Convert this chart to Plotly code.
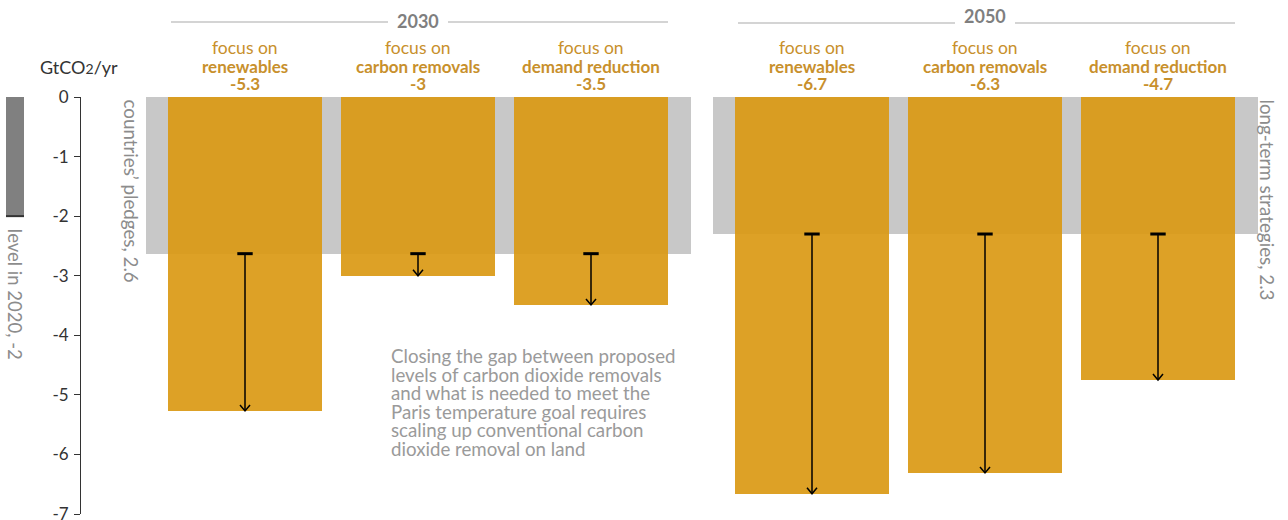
import plotly.graph_objects as go

# ---------------- data ----------------
years = ["2030", "2050"]
scenarios = ["renewables", "carbon removals", "demand reduction"]
values_2030 = [-5.27, -3.0, -3.49]
values_2050 = [-6.66, -6.31, -4.75]
value_labels_2030 = ["-5.3", "-3", "-3.5"]
value_labels_2050 = ["-6.7", "-6.3", "-4.7"]
pledge_levels = [-2.63, -2.3]
pledge_labels = ["countries\u2019 pledges, 2.6", "long-term strategies, 2.3"]
level_2020 = -2.0
level_2020_label = "level in 2020, -2"
y_ticks = [0, -1, -2, -3, -4, -5, -6, -7]
y_tick_labels = ["0", "-1", "-2", "-3", "-4", "-5", "-6", "-7"]
note_lines = [
    "Closing the gap between proposed",
    "levels of carbon dioxide removals",
    "and what is needed to meet the",
    "Paris temperature goal requires",
    "scaling up conventional carbon",
    "dioxide removal on land",
]
unit_label = "GtCO<span style='font-size:14px'>2</span>/yr"

# ---------------- layout constants ----------------
W, H = 1288, 520
MT, MB = 97, 6
FONT = "Lato"
ORANGE = "#DA9914"
GREY_BG = "#C8C8C8"
LABEL_GOLD = "#C8902C"
TEXT_GREY = "#8C8C8C"
DARK = "#333333"

group_centers = [418, 985]
bar_step = 173
bar_width = 154
bg_width = 545
PX_PER_UNIT = (H - MT - MB) / 7.0
HEAD_HALF_W = 5          # px
HEAD_H = 6 / PX_PER_UNIT  # data units


def ypaper(px):
    return (H - MB - px) / (H - MT - MB)


fig = go.Figure()

all_values = [values_2030, values_2050]
all_value_labels = [value_labels_2030, value_labels_2050]

# grey background bars (pledges)
fig.add_trace(go.Bar(
    x=group_centers, y=pledge_levels, width=[bg_width] * 2,
    marker=dict(color=GREY_BG, line=dict(width=0)), showlegend=False, hoverinfo="skip",
))

# 2020 level bar on the left
lvl_x, lvl_w = 15, 18
fig.add_trace(go.Bar(
    x=[lvl_x], y=[level_2020], width=[lvl_w],
    marker=dict(color="#808080", line=dict(width=0)), showlegend=False, hoverinfo="skip",
))
fig.add_shape(type="line", xref="x", yref="y", x0=lvl_x - lvl_w / 2, x1=lvl_x + lvl_w / 2,
              y0=level_2020, y1=level_2020, line=dict(color=DARK, width=2))

annotations = []
for g, (yr, gc) in enumerate(zip(years, group_centers)):
    centers = [gc + (i - 1) * bar_step for i in range(len(scenarios))]
    vals = all_values[g]
    fig.add_trace(go.Bar(
        x=centers, y=vals, width=[bar_width] * len(vals),
        marker=dict(color=ORANGE, opacity=0.92, line=dict(width=0)),
        showlegend=False, hoverinfo="skip",
    ))
    # arrows from pledge level down to scenario value
    for c, v in zip(centers, vals):
        p = pledge_levels[g]
        fig.add_trace(go.Scatter(
            x=[c, c, None, c - HEAD_HALF_W, c, c + HEAD_HALF_W],
            y=[p, v, None, v + HEAD_H, v, v + HEAD_H],
            mode="lines", line=dict(color="black", width=1.5),
            showlegend=False, hoverinfo="skip",
        ))
        fig.add_trace(go.Scatter(
            x=[c], y=[p], mode="markers",
            marker=dict(symbol="line-ew", size=11, line=dict(color="black", width=3)),
            showlegend=False, hoverinfo="skip",
        ))
    # category headers
    for c, name, vl in zip(centers, scenarios, all_value_labels[g]):
        annotations.append(dict(x=c, y=ypaper(47), xref="x", yref="paper", text="focus on",
                                showarrow=False, font=dict(family=FONT, size=17.5, color=LABEL_GOLD),
                                xanchor="center", yanchor="middle"))
        annotations.append(dict(x=c, y=ypaper(66), xref="x", yref="paper", text="<b>%s</b>" % name,
                                showarrow=False, font=dict(family=FONT, size=17, color=LABEL_GOLD),
                                xanchor="center", yanchor="middle"))
        annotations.append(dict(x=c, y=ypaper(84), xref="x", yref="paper", text="<b>%s</b>" % vl,
                                showarrow=False, font=dict(family=FONT, size=17, color=LABEL_GOLD),
                                xanchor="center", yanchor="middle"))
    # year header and rule
    ty = [21, 16][g]
    ly = [22, 23][g]
    annotations.append(dict(x=gc, y=ypaper(ty), xref="x", yref="paper", text="<b>%s</b>" % yr,
                            showarrow=False, font=dict(family=FONT, size=18, color="#7F7F7F"),
                            xanchor="center", yanchor="middle"))
    left = centers[0] - bar_width / 2 + 3
    right = centers[-1] + bar_width / 2
    gap = 30
    for x0, x1 in [(left, gc - gap), (gc + gap, right)]:
        fig.add_shape(type="line", xref="x", yref="paper", x0=x0, x1=x1,
                      y0=ypaper(ly), y1=ypaper(ly), line=dict(color="#AAAAAA", width=1.2))

# rotated side labels
annotations.append(dict(x=131, y=1, xref="x", yref="paper", text=pledge_labels[0], textangle=90,
                        showarrow=False, font=dict(family=FONT, size=18.8, color=TEXT_GREY),
                        xanchor="center", yanchor="top"))
annotations.append(dict(x=1267, y=1, xref="x", yref="paper", text=pledge_labels[1], textangle=90,
                        showarrow=False, font=dict(family=FONT, size=18.8, color=TEXT_GREY),
                        xanchor="center", yanchor="top"))
annotations.append(dict(x=lvl_x, y=level_2020 - 0.17, xref="x", yref="y", text=level_2020_label,
                        textangle=90, showarrow=False,
                        font=dict(family=FONT, size=18.5, color=TEXT_GREY),
                        xanchor="center", yanchor="top"))

# note paragraph
for i, line in enumerate(note_lines):
    annotations.append(dict(x=389, y=ypaper(356 + 18.6 * i), xref="x", yref="paper", text=line,
                            showarrow=False, font=dict(family=FONT, size=18.7, color="#9A9A9A"),
                            xanchor="left", yanchor="middle"))

# unit label
annotations.append(dict(x=38, y=ypaper(67), xref="x", yref="paper", text=unit_label,
                        showarrow=False, font=dict(family=FONT, size=18, color=DARK),
                        xanchor="left", yanchor="middle"))

fig.update_layout(
    width=W, height=H,
    margin=dict(l=0, r=0, t=MT, b=MB),
    paper_bgcolor="white", plot_bgcolor="white",
    barmode="overlay",
    bargap=0,
    xaxis=dict(range=[0, W], visible=False, fixedrange=True, automargin=False),
    yaxis=dict(
        range=[-7, 0], anchor="free", position=80 / W,
        tickvals=y_ticks, ticktext=y_tick_labels,
        showline=True, linecolor=DARK, linewidth=1,
        ticks="outside", ticklen=6, tickcolor=DARK, tickwidth=1,
        tickfont=dict(family=FONT, size=17, color=DARK),
        ticklabelstandoff=2, ticklabeloverflow="allow", automargin=False,
        showgrid=False, zeroline=False, fixedrange=True,
    ),
    annotations=annotations,
    font=dict(family=FONT),
)

fig.write_html(
    "out.html",
    config={"displayModeBar": False},
    post_script="document.body.style.margin='0';document.body.style.overflow='hidden';",
)
